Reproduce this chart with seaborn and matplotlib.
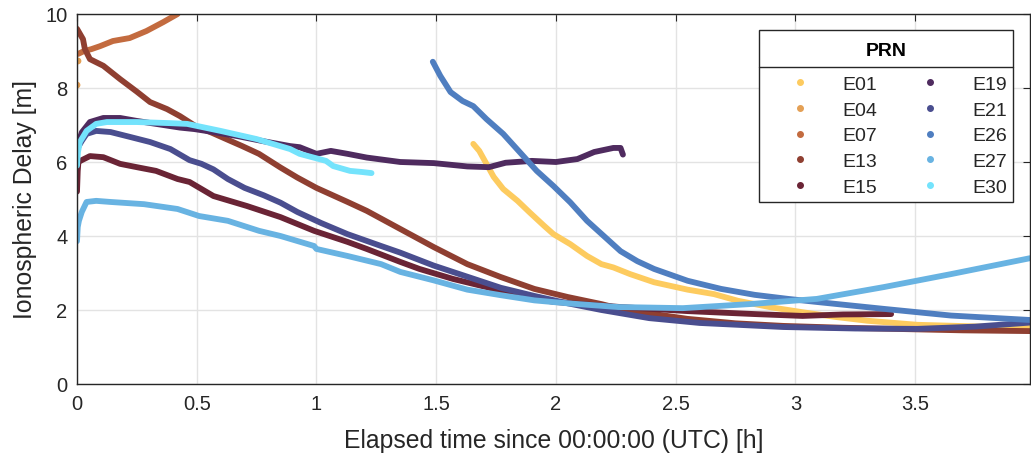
import numpy as np
import pandas as pd
import matplotlib
matplotlib.use("Agg")
import matplotlib.pyplot as plt
from matplotlib.lines import Line2D
import seaborn as sns

# Ionospheric delay per Galileo satellite (PRN), elapsed hours vs metres
e01_t = [1.655, 1.68, 1.71, 1.74, 1.78, 1.84, 1.89, 1.95, 1.99, 2.06, 2.13, 2.19, 2.24,
         2.31, 2.41, 2.55, 2.66, 2.76, 2.90, 3.03, 3.17, 3.30, 3.51, 3.79, 3.98]
e01_d = [6.49, 6.30, 5.95, 5.60, 5.27, 4.95, 4.64, 4.28, 4.05, 3.78, 3.46, 3.24, 3.15,
         2.97, 2.75, 2.55, 2.43, 2.25, 2.07, 1.94, 1.81, 1.71, 1.60, 1.55, 1.55]

e04_t = [0.0, 0.004]
e04_d = [8.08, 8.73]

e07_t = [0.004, 0.03, 0.06, 0.096, 0.15, 0.22, 0.29, 0.36, 0.42]
e07_d = [8.92, 9.00, 9.05, 9.13, 9.27, 9.35, 9.54, 9.78, 10.0]

e13_t = [0.0, 0.025, 0.033, 0.054, 0.11, 0.18, 0.25, 0.305, 0.376, 0.43, 0.50, 0.56, 0.63,
         0.69, 0.76, 0.85, 0.92, 1.00, 1.13, 1.21, 1.35, 1.49, 1.63, 1.77, 1.91, 2.05,
         2.19, 2.27, 2.41, 2.55, 2.75, 2.95, 3.20, 3.41, 3.70, 3.98]
e13_d = [9.60, 9.32, 9.05, 8.78, 8.60, 8.24, 7.90, 7.62, 7.43, 7.24, 6.95, 6.80, 6.60,
         6.43, 6.22, 5.85, 5.58, 5.30, 4.92, 4.68, 4.19, 3.70, 3.24, 2.89, 2.57, 2.35,
         2.16, 2.03, 1.89, 1.76, 1.64, 1.57, 1.52, 1.49, 1.45, 1.43]

e15_t = [0.0, 0.003, 0.006, 0.02, 0.054, 0.11, 0.18, 0.25, 0.33, 0.42, 0.47, 0.57, 0.71,
         0.85, 0.99, 1.13, 1.21, 1.35, 1.43, 1.57, 1.71, 1.85, 1.99, 2.27, 2.55, 2.83,
         3.03, 3.20, 3.40]
e15_d = [5.20, 5.76, 6.00, 6.05, 6.16, 6.13, 5.95, 5.86, 5.76, 5.54, 5.46, 5.08, 4.81,
         4.51, 4.14, 3.84, 3.65, 3.30, 3.11, 2.84, 2.62, 2.38, 2.22, 2.08, 1.97, 1.89,
         1.84, 1.88, 1.89]

e19_t = [0.0, 0.02, 0.054, 0.11, 0.18, 0.25, 0.33, 0.43, 0.49, 0.57, 0.67, 0.78, 0.89,
         0.93, 1.00, 1.06, 1.13, 1.21, 1.35, 1.49, 1.63, 1.72, 1.79, 1.90, 2.00, 2.09,
         2.16, 2.24, 2.27, 2.28]
e19_d = [6.40, 6.80, 7.08, 7.19, 7.19, 7.11, 7.03, 6.93, 6.89, 6.81, 6.70, 6.56, 6.43,
         6.40, 6.22, 6.30, 6.22, 6.12, 6.00, 5.97, 5.88, 5.86, 5.98, 6.03, 6.00, 6.08,
         6.27, 6.38, 6.38, 6.20]

e21_t = [0.0, 0.02, 0.04, 0.08, 0.14, 0.22, 0.305, 0.39, 0.47, 0.52, 0.57, 0.63, 0.70,
         0.78, 0.85, 0.92, 1.02, 1.13, 1.27, 1.35, 1.49, 1.63, 1.77, 1.91, 2.05, 2.19,
         2.39, 2.60, 2.95, 3.25, 3.51, 3.75, 3.98]
e21_d = [6.35, 6.57, 6.76, 6.84, 6.81, 6.68, 6.54, 6.35, 6.05, 5.95, 5.80, 5.54, 5.30,
         5.10, 4.90, 4.65, 4.35, 4.05, 3.73, 3.55, 3.20, 2.90, 2.60, 2.38, 2.18, 2.00,
         1.78, 1.65, 1.54, 1.50, 1.49, 1.55, 1.66]

e26_t = [1.486, 1.517, 1.56, 1.61, 1.655, 1.71, 1.78, 1.85, 1.92, 1.99, 2.06, 2.13, 2.20,
         2.27, 2.34, 2.41, 2.55, 2.69, 2.83, 2.97, 3.10, 3.37, 3.65, 3.98]
e26_d = [8.71, 8.33, 7.89, 7.65, 7.51, 7.16, 6.76, 6.26, 5.76, 5.35, 4.91, 4.41, 4.00,
         3.59, 3.32, 3.11, 2.79, 2.57, 2.41, 2.30, 2.21, 2.03, 1.85, 1.73]

e27_t = [0.0, 0.003, 0.008, 0.02, 0.04, 0.08, 0.14, 0.28, 0.42, 0.51, 0.63, 0.76, 0.85,
         0.99, 1.00, 1.13, 1.27, 1.35, 1.49, 1.63, 1.77, 1.91, 2.05, 2.26, 2.53, 2.81,
         3.09, 3.37, 3.65, 3.98]
e27_d = [3.86, 4.24, 4.41, 4.65, 4.92, 4.95, 4.92, 4.86, 4.73, 4.54, 4.41, 4.14, 4.00,
         3.73, 3.65, 3.46, 3.24, 3.03, 2.80, 2.55, 2.40, 2.26, 2.18, 2.08, 2.05, 2.16,
         2.30, 2.62, 2.97, 3.40]

e30_t = [0.0, 0.004, 0.012, 0.04, 0.08, 0.125, 0.25, 0.39, 0.46, 0.60, 0.75, 0.89, 0.93,
         1.04, 1.07, 1.14, 1.19, 1.23]
e30_d = [5.90, 6.27, 6.54, 6.84, 7.03, 7.08, 7.08, 7.05, 7.03, 6.84, 6.62, 6.35, 6.22,
         6.03, 5.89, 5.76, 5.73, 5.70]

prns = ["E01", "E04", "E07", "E13", "E15", "E19", "E21", "E26", "E27", "E30"]
colors = ["#FDCB5F", "#E4A055", "#C36B3F", "#8F3F31", "#6A2435",
          "#4F2B5F", "#4A4E8F", "#4F7EC0", "#68B3E2", "#74E3FC"]

series = {
    "E01": (e01_t, e01_d), "E04": (e04_t, e04_d), "E07": (e07_t, e07_d),
    "E13": (e13_t, e13_d), "E15": (e15_t, e15_d), "E19": (e19_t, e19_d),
    "E21": (e21_t, e21_d), "E26": (e26_t, e26_d), "E27": (e27_t, e27_d),
    "E30": (e30_t, e30_d),
}

frames = []
for name, (t, d) in series.items():
    frames.append(pd.DataFrame({"time": t, "delay": d, "PRN": name}))
df = pd.concat(frames, ignore_index=True)
palette = dict(zip(prns, colors))

sns.set_theme(style="whitegrid")
plt.rcParams["font.family"] = ["Liberation Sans", "DejaVu Sans"]

fig = plt.figure(figsize=(10.31, 4.60), dpi=100)
ax = fig.add_axes([77 / 1031, 75 / 460, 953 / 1031, 370 / 460])

draw_order = ["E01", "E07", "E13", "E15", "E19", "E21", "E26", "E27", "E30"]
for name in draw_order:
    sub = df[df["PRN"] == name]
    sns.lineplot(data=sub, x="time", y="delay", color=palette[name], lw=4.2,
                 sort=False, estimator=None, legend=False, ax=ax,
                 solid_capstyle="round", solid_joinstyle="round")
sub = df[df["PRN"] == "E04"]
sns.scatterplot(data=sub, x="time", y="delay", color=palette["E04"], s=24,
                edgecolor="none", legend=False, ax=ax)

ax.set_xlim(0, 3.98)
ax.set_ylim(0, 10)
ax.set_xticks([0, 0.5, 1, 1.5, 2, 2.5, 3, 3.5])
ax.set_xticklabels(["0", "0.5", "1", "1.5", "2", "2.5", "3", "3.5"])
ax.set_yticks([0, 2, 4, 6, 8, 10])
ax.grid(True, color="#E3E3E3", lw=1.0)
ax.set_facecolor("white")
for sp in ax.spines.values():
    sp.set_color("#262626")
    sp.set_linewidth(1.0)
    sp.set_visible(True)
ax.tick_params(direction="in", length=5, width=0.8, color="#262626",
               top=True, right=True, labelsize=14.5, labelcolor="#262626", pad=7)
ax.set_xlabel("Elapsed time since 00:00:00 (UTC) [h]", fontsize=17.8,
              color="#262626", labelpad=11)
ax.set_ylabel("Ionospheric Delay [m]", fontsize=17.8, color="#262626", labelpad=6)

# legend: the title slot is reserved by an invisible text, the visible
# title and the separator rule are placed after layout
handles = [Line2D([], [], ls="none", marker="o", ms=4, mfc=c, mec=c) for c in colors]
leg = ax.legend(handles, prns, ncol=2, loc="upper right",
                bbox_to_anchor=(1 - 17 / 953, 1 - 16 / 370),
                title="PRN", fontsize=14,
                title_fontproperties={"weight": "bold", "size": 23.5},
                frameon=True, fancybox=False, edgecolor="#262626", framealpha=1,
                borderpad=0.3, labelspacing=0.42, handlelength=3.62,
                handletextpad=0.35, columnspacing=0.93, borderaxespad=0)
leg.get_frame().set_linewidth(1.0)
leg.get_title().set_alpha(0)
leg._legend_box.sep = 6

fig.canvas.draw()
lb = leg.get_window_extent()
inv = fig.transFigure.inverted()
xc = (lb.x0 + lb.x1) / 2
(tx, ty), = inv.transform([(xc, lb.y1 - 21)])
fig.text(tx, ty, "PRN", ha="center", va="center", fontsize=14, fontweight="bold",
         color="black")
ysep = lb.y1 - 37
(x0, y0), = inv.transform([(lb.x0, ysep)])
(x1, _), = inv.transform([(lb.x1, ysep)])
fig.add_artist(Line2D([x0, x1], [y0, y0], color="#262626", lw=1.0,
                      transform=fig.transFigure))

fig.savefig("out.png", dpi=100)
